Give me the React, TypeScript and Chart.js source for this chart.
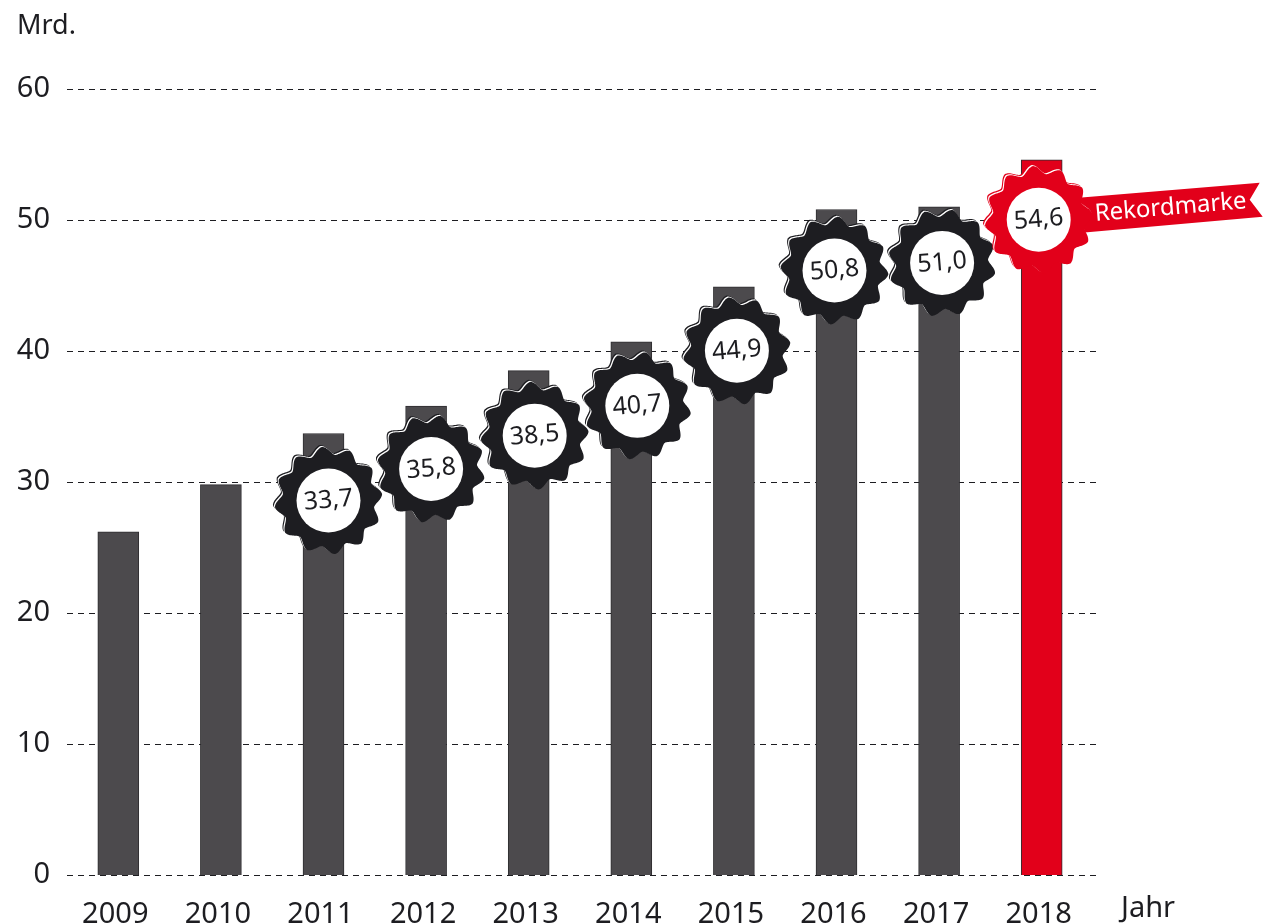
import React, { useEffect, useRef } from "react";
import { Chart, registerables } from "chart.js";

Chart.register(...registerables);

const years = ["2009", "2010", "2011", "2012", "2013", "2014", "2015", "2016", "2017", "2018"];
const values = [26.2, 29.8, 33.7, 35.8, 38.5, 40.7, 44.9, 50.8, 51.0, 54.6];
const badgeLabels = ["", "", "33,7", "35,8", "38,5", "40,7", "44,9", "50,8", "51,0", "54,6"];
const yTicks = [0, 10, 20, 30, 40, 50, 60];
const recordLabel = "Rekordmarke";
const yUnit = "Mrd.";
const xUnit = "Jahr";

const FONT = '"Noto Sans", sans-serif';
const INK = "#1d1d21";
const GREY = "#4c4a4d";
const RED = "#e2001a";
const TEETH = 12;

// badge placement relative to its bar's x position and bar top, in px
const badgeDx = [0, 0, 5, 5, 6, 6, 3, -2, 3, -3];
const badgeDy = [0, 0, 67, 63, 65, 64, 64, 61, 56, 60];
const badgeRot = [0, 0, 0.12, 0.35, 0.6, 0.9, 1.2, 1.5, 1.9, 2.2];

function gearPath(ctx: CanvasRenderingContext2D, cx: number, cy: number, rot: number) {
  ctx.beginPath();
  const steps = 360;
  for (let i = 0; i <= steps; i++) {
    const t = (i / steps) * Math.PI * 2;
    const phase = TEETH * t + rot * TEETH;
    const wave = 0.5 + 0.5 * Math.cos(phase);
    const tri = 1 - Math.abs(((phase / (2 * Math.PI)) % 1 + 1) % 1 - 0.5) * 2;
    const peak = 1 - tri;
    const mix = 0.7 * wave + 0.3 * peak;
    const r = 46 + 8 * mix;
    const x = cx + r * Math.cos(t);
    const y = cy + r * Math.sin(t);
    if (i === 0) ctx.moveTo(x, y);
    else ctx.lineTo(x, y);
  }
  ctx.closePath();
}

const gridPlugin = {
  id: "dashedGrid",
  beforeDatasetsDraw(chart: any) {
    const { ctx, scales } = chart;
    ctx.save();
    ctx.strokeStyle = INK;
    ctx.lineWidth = 1;
    ctx.setLineDash([6, 5]);
    yTicks.forEach((v) => {
      const y = Math.round(scales.y.getPixelForValue(v)) + 0.5;
      ctx.beginPath();
      ctx.moveTo(67, y);
      ctx.lineTo(1097, y);
      ctx.stroke();
    });
    ctx.restore();
  },
};

const badgePlugin = {
  id: "badges",
  afterDatasetsDraw(chart: any) {
    const { ctx, scales } = chart;
    ctx.save();
    // ribbon, anchored to the last bar
    const last = values.length - 1;
    const bx = scales.x.getPixelForValue(last) + badgeDx[last];
    const by = scales.y.getPixelForValue(values[last]) + badgeDy[last];
    ctx.fillStyle = RED;
    ctx.beginPath();
    ctx.moveTo(bx + 40, by - 22);
    ctx.lineTo(bx + 221, by - 37);
    ctx.lineTo(bx + 211, by - 20);
    ctx.lineTo(bx + 224, by - 3);
    ctx.lineTo(bx + 43, by + 13);
    ctx.closePath();
    ctx.fill();
    ctx.save();
    ctx.translate(bx + 132, by - 12);
    ctx.rotate(-0.085);
    ctx.fillStyle = "#ffffff";
    ctx.font = `400 24px ${FONT}`;
    ctx.textAlign = "center";
    ctx.textBaseline = "middle";
    ctx.fillText(recordLabel, 0, 0);
    ctx.restore();

    values.forEach((v, i) => {
      if (!badgeLabels[i]) return;
      const cx = scales.x.getPixelForValue(i) + badgeDx[i];
      const cy = scales.y.getPixelForValue(v) + badgeDy[i];
      const fill = i === last ? RED : INK;
      gearPath(ctx, cx - 2, cy - 2, badgeRot[i]);
      ctx.fillStyle = fill;
      ctx.fill();
      gearPath(ctx, cx - 1, cy - 1, badgeRot[i]);
      ctx.fillStyle = "#ffffff";
      ctx.fill();
      gearPath(ctx, cx, cy, badgeRot[i]);
      ctx.fillStyle = fill;
      ctx.fill();
      ctx.beginPath();
      ctx.arc(cx, cy, 32, 0, Math.PI * 2);
      ctx.fillStyle = "#ffffff";
      ctx.fill();
      ctx.save();
      ctx.translate(cx, cy);
      ctx.rotate(-0.085);
      ctx.fillStyle = INK;
      ctx.font = `400 25px ${FONT}`;
      ctx.textAlign = "center";
      ctx.textBaseline = "middle";
      ctx.fillText(badgeLabels[i], 0, 0);
      ctx.restore();
    });

    ctx.fillStyle = INK;
    ctx.font = `400 27px ${FONT}`;
    ctx.textAlign = "left";
    ctx.textBaseline = "middle";
    ctx.fillText(yUnit, 17, 26);
    ctx.font = `400 29px ${FONT}`;
    ctx.fillText(xUnit, 1121, 909);
    ctx.restore();
  },
};

export default function App() {
  const ref = useRef<HTMLCanvasElement | null>(null);

  useEffect(() => {
    if (!ref.current) return;
    const chart = new Chart(ref.current, {
      type: "bar",
      data: {
        labels: years,
        datasets: [
          {
            data: values,
            backgroundColor: values.map((_, i) => (i === values.length - 1 ? RED : GREY)),
            borderColor: "#2e2d30",
            borderWidth: 1,
            barThickness: 41,
          },
        ],
      },
      options: {
        responsive: false,
        animation: false,
        layout: { padding: { top: 89, right: 172, left: 0, bottom: 0 } },
        plugins: { legend: { display: false }, tooltip: { enabled: false } },
        scales: {
          x: {
            grid: { display: false, drawTicks: false },
            border: { display: false },
            ticks: {
              color: INK,
              font: { family: FONT, size: 29 },
              padding: 22,
              maxRotation: 0,
              autoSkip: false,
            },
            afterFit: (s: any) => {
              s.height = 49;
            },
            afterUpdate: (s: any) => {
              // tick labels sit slightly left of the bar centres in the reference
              const base = s.getPixelForTick.bind(s);
              s.getPixelForTick = (i: number) => base(i) - 3;
            },
          },
          y: {
            min: 0,
            max: 60,
            grid: { display: false, drawTicks: false },
            border: { display: false },
            ticks: {
              color: INK,
              font: { family: FONT, size: 29 },
              stepSize: 10,
              padding: 17,
            },
            afterFit: (s: any) => {
              s.width = 67;
            },
          },
        },
      },
      plugins: [gridPlugin, badgePlugin],
    });
    return () => chart.destroy();
  }, []);

  return (
    <div style={{ position: "absolute", left: 0, top: 0, width: 1265, height: 924 }}>
      <canvas ref={ref} width={1265} height={924} style={{ display: "block" }} />
    </div>
  );
}
